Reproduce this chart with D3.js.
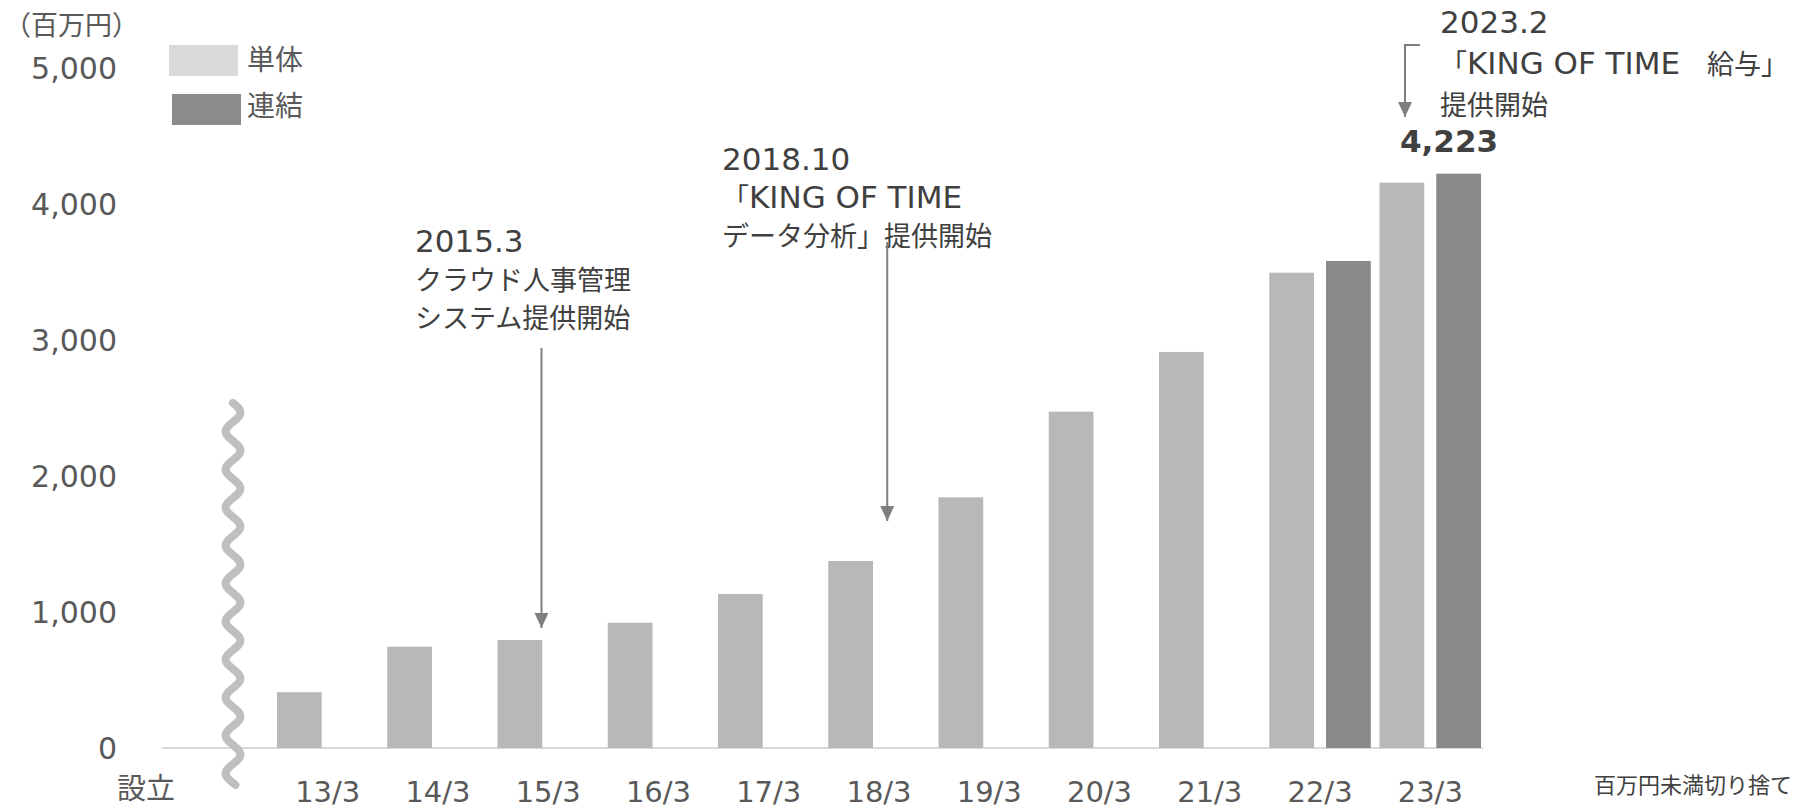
<!DOCTYPE html>
<html>
<head>
<meta charset="utf-8">
<script src="https://cdn.jsdelivr.net/npm/d3@7"></script>
<style>
  body { margin: 0; background: #fff; }
  svg { display: block; }
</style>
</head>
<body>
<div id="chart-container"></div>
<script>
// Data (百万円)
const categories = ["13/3", "14/3", "15/3", "16/3", "17/3", "18/3", "19/3", "20/3", "21/3", "22/3", "23/3"];
const seriesNames = ["単体", "連結"];
const tantai = [410, 745, 794, 921, 1132, 1375, 1843, 2473, 2912, 3495, 4157];
const renketsu = [null, null, null, null, null, null, null, null, null, 3581, 4223];
const yTicks = [0, 1000, 2000, 3000, 4000, 5000];

const width = 1796;
const height = 809;

const latinFont = "'DejaVu Sans', sans-serif";
const cjkFont = "'Noto Sans CJK JP', sans-serif";

const svg = d3.select("#chart-container")
    .append("svg")
    .attr("width", width)
    .attr("height", height);

// Scales
const x = d3.scaleBand()
    .domain(categories)
    .range([272.6, 1485.4])
    .paddingInner(0.0794)
    .paddingOuter(0.0397);

const xSub = d3.scaleBand()
    .domain(seriesNames)
    .range([0, x.bandwidth()])
    .paddingInner(0.212);

const y = d3.scaleLinear()
    .domain([0, 5000])
    .range([748, 68]);

const color = d3.scaleOrdinal()
    .domain(seriesNames)
    .range(["#b8b8b8", "#898989"]);

// mixed latin / japanese text: latin runs in DejaVu, the rest in Noto CJK
function richText(sel, str, latinSize, cjkSize) {
    const runs = str.match(/[\x20-\x7E]+|[^\x20-\x7E]+/g);
    runs.forEach(r => {
        const latin = /^[\x20-\x7E]+$/.test(r);
        sel.append("tspan")
            .attr("font-family", latin ? latinFont : cjkFont)
            .attr("font-size", latin ? latinSize : cjkSize)
            .text(r);
    });
}

// Y axis labels
svg.append("g")
    .selectAll("text")
    .data(yTicks)
    .join("text")
    .attr("x", 117)
    .attr("y", d => y(d))
    .attr("dy", "0.36em")
    .attr("text-anchor", "end")
    .attr("font-family", latinFont)
    .attr("font-size", 30)
    .attr("fill", "#595959")
    .text(d => d3.format(",")(d));

svg.append("text")
    .attr("x", 4)
    .attr("y", 35)
    .attr("font-family", cjkFont)
    .attr("font-size", 27)
    .attr("fill", "#595959")
    .text("（百万円）");

// Baseline
svg.append("line")
    .attr("x1", 162)
    .attr("x2", 1483)
    .attr("y1", y(0))
    .attr("y2", y(0))
    .attr("stroke", "#d9d9d9")
    .attr("stroke-width", 2);

// Bars
const rows = categories.map((c, i) => ({ cat: c, values: [
    { key: "単体", value: tantai[i] },
    { key: "連結", value: renketsu[i] }
] }));

svg.append("g")
    .selectAll("g")
    .data(rows)
    .join("g")
    .attr("transform", d => `translate(${x(d.cat)},0)`)
    .selectAll("rect")
    .data(d => d.values.filter(v => v.value != null))
    .join("rect")
    .attr("x", d => xSub(d.key))
    .attr("width", xSub.bandwidth())
    .attr("y", d => y(d.value))
    .attr("height", d => y(0) - y(d.value))
    .attr("fill", d => color(d.key));

// X axis labels
svg.append("g")
    .selectAll("text")
    .data(categories)
    .join("text")
    .attr("x", d => x(d) + x.bandwidth() / 2)
    .attr("y", 802)
    .attr("text-anchor", "middle")
    .attr("font-family", latinFont)
    .attr("font-size", 29)
    .attr("fill", "#595959")
    .text(d => d);

svg.append("text")
    .attr("x", 117)
    .attr("y", 799)
    .attr("font-family", cjkFont)
    .attr("font-size", 29)
    .attr("fill", "#595959")
    .text("設立");

// Axis break wave
const wave = d3.range(0, 383, 2).map(t => [233 + 7.5 * Math.sin(t / 38 * 2 * Math.PI), 403 + t]);
svg.append("path")
    .attr("d", d3.line().curve(d3.curveBasis)(wave))
    .attr("fill", "none")
    .attr("stroke", "#bfbfbf")
    .attr("stroke-width", 8)
    .attr("stroke-linecap", "round");

// Legend
const legend = svg.append("g");
[["単体", "#d9d9d9", 169, 45, 70], ["連結", "#8c8c8c", 172, 94, 116]].forEach(([name, c, lx, ly, ty]) => {
    legend.append("rect")
        .attr("x", lx).attr("y", ly)
        .attr("width", 69).attr("height", 31)
        .attr("fill", c);
    legend.append("text")
        .attr("x", 247).attr("y", ty)
        .attr("font-family", cjkFont)
        .attr("font-size", 28)
        .attr("fill", "#595959")
        .text(name);
});

// Annotations
const defs = svg.append("defs");
defs.append("marker")
    .attr("id", "arrow")
    .attr("viewBox", "0 0 14 15")
    .attr("refX", 7).attr("refY", 15)
    .attr("markerWidth", 14).attr("markerHeight", 15)
    .attr("markerUnits", "userSpaceOnUse")
    .attr("orient", "0")
    .append("path")
    .attr("d", "M0,0 L14,0 L7,15 Z")
    .attr("fill", "#7f7f7f");

const notes = [
    { lines: ["2015.3", "クラウド人事管理", "システム提供開始"], x: 415, ys: [252, 290, 328] },
    { lines: ["2018.10", "「KING OF TIME", "データ分析」提供開始"], x: 722, ys: [170, 208, 246] },
    { lines: ["2023.2", "「KING OF TIME\u3000給与」", "提供開始"], x: 1440, ys: [33, 74, 115] }
];

notes.forEach(n => {
    n.lines.forEach((l, i) => {
        const t = svg.append("text")
            .attr("x", n.x)
            .attr("y", n.ys[i])
            .attr("fill", "#404040");
        richText(t, l, 31, 27);
    });
});

const arrowStyle = s => s.attr("fill", "none")
    .attr("stroke", "#7f7f7f")
    .attr("stroke-width", 2)
    .attr("marker-end", "url(#arrow)");

svg.append("path")
    .attr("d", d3.line()([[x("15/3") + 44, 348], [x("15/3") + 44, 628]]))
    .call(arrowStyle);

svg.append("path")
    .attr("d", d3.line()([[x("18/3") + 59, 242], [x("18/3") + 59, 521]]))
    .call(arrowStyle);

svg.append("path")
    .attr("d", d3.line()([[1420, 45], [1405, 45], [1405, 117]]))
    .call(arrowStyle);

// Total label
svg.append("text")
    .attr("x", 1400)
    .attr("y", y(4223) - 22)
    .attr("font-family", latinFont)
    .attr("font-size", 31)
    .attr("font-weight", "bold")
    .attr("fill", "#404040")
    .text(d3.format(",")(renketsu[10]));

// Footnote
svg.append("text")
    .attr("x", 1594)
    .attr("y", 793)
    .attr("font-family", cjkFont)
    .attr("font-size", 22)
    .attr("fill", "#404040")
    .text("百万円未満切り捨て");
</script>
</body>
</html>
